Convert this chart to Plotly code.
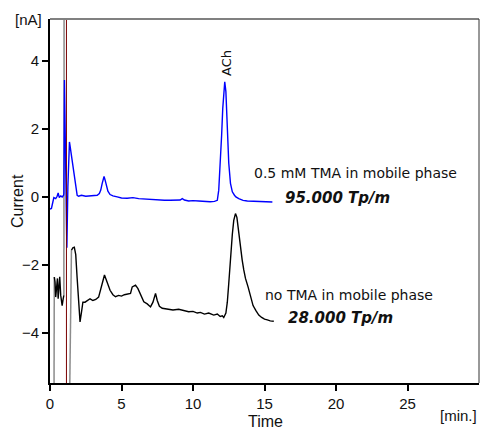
import plotly.graph_objects as go

# ---- data ----
blue_t = [0.0, 0.1, 0.2, 0.27, 0.4, 0.5, 0.57, 0.65, 0.75, 0.85, 0.95, 0.97, 1.01, 1.12, 1.18, 1.25,
          1.36, 1.42, 1.5, 1.6, 1.67, 1.75, 1.82, 1.9, 2.0, 2.2, 2.5, 2.8, 3.1, 3.3, 3.45, 3.55, 3.65,
          3.72, 3.78, 3.85, 3.95, 4.05, 4.2, 4.4, 4.7, 5.0, 5.4, 5.8, 6.2, 6.5, 6.8, 7.2, 7.6, 8.0,
          8.4, 8.8, 9.1, 9.25, 9.4, 9.7, 10.0, 10.4, 10.8, 11.2, 11.5, 11.7, 11.8, 11.9, 12.0, 12.08,
          12.15, 12.22, 12.3, 12.37, 12.43, 12.5, 12.62, 12.75, 12.9, 13.0, 13.2, 13.5, 13.8, 14.2,
          14.6, 15.0, 15.3, 15.55]
blue_i = [-0.36, -0.34, -0.15, -0.02, -0.05, 0.02, 0.12, -0.02, 0.03, 0.0, 0.05, 0.1, 3.44, 0.5, -1.5, 0.3,
          1.62, 1.45, 1.2, 0.95, 0.79, 0.45, 0.2, 0.05, 0.02, 0.05, 0.02, 0.03, 0.04, 0.05, 0.1, 0.2, 0.4,
          0.55, 0.6, 0.5, 0.3, 0.17, 0.07, 0.03, 0.0, -0.03, -0.04, -0.02, -0.05, -0.06, -0.07, -0.08, -0.08, -0.1,
          -0.1, -0.1, -0.09, -0.05, -0.09, -0.12, -0.11, -0.12, -0.14, -0.14, -0.13, -0.1, 0.2, 0.9, 1.8, 2.6,
          3.1, 3.39, 3.1, 2.3, 1.6, 1.0, 0.4, 0.15, 0.05, 0.0, -0.05, -0.1, -0.12, -0.13,
          -0.14, -0.15, -0.14, -0.15]

black_t = [0.3, 0.35, 0.4, 0.47, 0.52, 0.57, 0.62, 0.68, 0.75, 0.85, 0.92, 0.97, None,
           1.5, 1.6, 1.7, 1.8, 1.9, 2.0, 2.1, 2.2, 2.3, 2.45, 2.6, 2.8, 3.0, 3.2, 3.4, 3.55, 3.7, 3.81,
           3.9, 4.05, 4.2, 4.4, 4.58, 4.8, 5.0, 5.2, 5.4, 5.63, 5.75, 5.98, 6.15, 6.35, 6.56, 6.8, 7.03,
           7.2, 7.3, 7.38, 7.5, 7.65, 7.85, 8.2, 8.6, 9.0, 9.36, 9.7, 10.0, 10.3, 10.52, 10.8, 11.1,
           11.45, 11.7, 11.9, 12.05, 12.15, 12.3, 12.4, 12.5, 12.6, 12.67, 12.75, 12.85, 12.97, 13.07,
           13.2, 13.3, 13.44, 13.55, 13.67, 13.85, 14.02, 14.2, 14.4, 14.6, 14.8, 15.0, 15.2, 15.4, 15.65]
black_i = [-2.36, -2.5, -2.95, -2.5, -2.4, -3.0, -2.6, -2.35, -2.9, -3.2, -3.0, -2.9, None,
           -1.57, -1.5, -1.48, -1.7, -2.4, -3.2, -3.68, -3.4, -3.1, -3.1, -3.05, -3.0, -3.05, -3.02, -2.95, -2.7, -2.4, -2.3,
           -2.4, -2.6, -2.75, -2.88, -2.94, -2.9, -2.92, -2.88, -2.86, -2.84, -2.65, -2.6, -2.7, -2.92, -3.09, -3.15, -3.24,
           -3.1, -2.9, -2.84, -3.05, -3.22, -3.28, -3.3, -3.33, -3.31, -3.35, -3.38, -3.37, -3.42, -3.4, -3.45, -3.42,
           -3.48, -3.45, -3.52, -3.5, -3.55, -3.42, -3.1, -2.55, -1.9, -1.57, -1.1, -0.69, -0.49, -0.6,
           -1.08, -1.3, -1.86, -2.15, -2.4, -2.65, -2.95, -3.2, -3.35, -3.48, -3.55, -3.6, -3.62, -3.65, -3.66]

# off-scale excursions of the black trace (drawn grey, clipped by the axes)
offscale_t = [0.27, 0.3, None, 0.97, 0.99, None, 1.31, 1.5]
offscale_i = [-8.0, -2.36, None, -2.9, 8.0, None, -8.0, -1.57]

inject_t = 1.15

x_ticks = [0, 5, 10, 15, 20, 25]
y_ticks = [-4, -2, 0, 2, 4]
x_range = [0, 30]
y_range = [-5.48, 5.24]

fig = go.Figure()
fig.add_trace(go.Scatter(x=offscale_t, y=offscale_i, mode="lines",
                         line=dict(color="#8c8c8c", width=1.5), hoverinfo="skip"))
fig.add_trace(go.Scatter(x=black_t, y=black_i, mode="lines",
                         line=dict(color="black", width=1.4)))
fig.add_trace(go.Scatter(x=blue_t, y=blue_i, mode="lines",
                         line=dict(color="#0000ff", width=1.4)))
fig.add_vline(x=inject_t, line=dict(color="#7a0000", width=1))

# frame: grey top, dark right
fig.add_shape(type="line", xref="paper", yref="paper", x0=0, x1=1, y0=1, y1=1,
              line=dict(color="#808080", width=2))
fig.add_shape(type="line", xref="paper", yref="paper", x0=1, x1=1, y0=0, y1=1,
              line=dict(color="#333333", width=1))

lab = dict(family="DejaVu Sans", size=14, color="#111111")
bi = dict(family="DejaVu Sans", size=15, color="#111111")
fig.add_annotation(x=12.3, y=3.5, text="ACh", textangle=-90, showarrow=False,
                   xanchor="center", yanchor="bottom", font=dict(family="DejaVu Sans", size=13, color="#111111"))
fig.add_annotation(x=14.14, y=0.70, text="0.5 mM TMA in mobile phase", showarrow=False,
                   xanchor="left", yanchor="middle", font=lab)
fig.add_annotation(x=16.3, y=-0.04, text="<b><i>95.000 Tp/m</i></b>", showarrow=False,
                   xanchor="left", yanchor="middle", font=bi)
fig.add_annotation(x=14.89, y=-2.89, text="no TMA in mobile phase", showarrow=False,
                   xanchor="left", yanchor="middle", font=lab)
fig.add_annotation(x=16.52, y=-3.57, text="<b><i>28.000 Tp/m</i></b>", showarrow=False,
                   xanchor="left", yanchor="middle", font=bi)

ax = dict(family="Liberation Sans", size=15, color="#111111")
fig.add_annotation(xref="paper", yref="paper", x=0, y=1, text="[nA]", showarrow=False,
                   xanchor="right", yanchor="middle", xshift=-6, font=ax)
fig.add_annotation(xref="paper", yref="paper", x=1, y=0, text="[min.]", showarrow=False,
                   xanchor="right", yanchor="middle", yshift=-32, font=ax)
fig.add_annotation(xref="paper", yref="paper", x=0.502, y=0, text="Time", showarrow=False,
                   xanchor="center", yanchor="middle", yshift=-38, font=dict(family="Liberation Sans", size=16, color="#111111"))
fig.add_annotation(xref="paper", yref="paper", x=0, y=0.5, text="Current", textangle=-90, showarrow=False,
                   xanchor="center", yanchor="middle", xshift=-33, font=dict(family="Liberation Sans", size=16, color="#111111"))

fig.update_layout(
    width=483, height=430,
    margin=dict(l=50, r=4, t=19, b=47),
    paper_bgcolor="white", plot_bgcolor="white",
    showlegend=False,
    xaxis=dict(range=x_range, tickvals=x_ticks, ticks="outside", ticklen=6, tickwidth=1.5,
               tickcolor="black", showline=True, linecolor="black", linewidth=2,
               showgrid=False, zeroline=False, tickfont=ax),
    yaxis=dict(range=y_range, tickvals=y_ticks, ticks="outside", ticklen=6, tickwidth=1.5,
               tickcolor="black", showline=True, linecolor="black", linewidth=2,
               showgrid=False, zeroline=False, tickfont=ax),
)
fig.write_html("out.html")
